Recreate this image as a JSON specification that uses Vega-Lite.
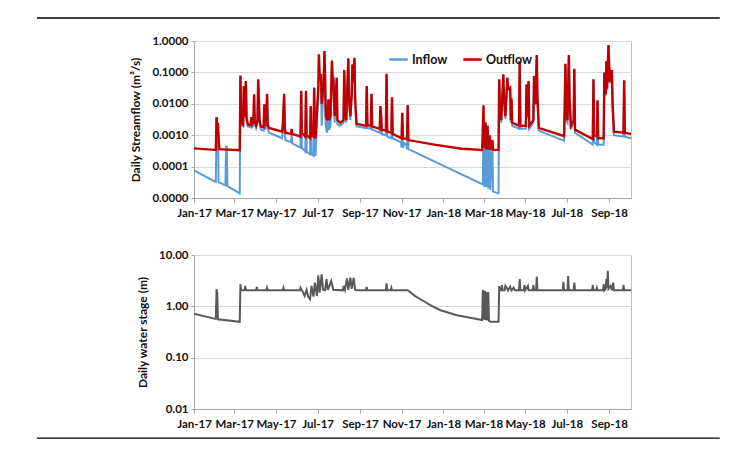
{
"$schema": "https://vega.github.io/schema/vega-lite/v6.json",
"background": "white",
"padding": {"left": 35, "top": 16, "right": 0, "bottom": 0},
"config": {
  "font": "Lato",
  "view": {"stroke": "#bfbfbf", "strokeWidth": 1},
  "axis": {"labelFont": "Lato", "labelFontWeight": "bold", "labelFontSize": 11.5, "labelColor": "#111", "titleFont": "Lato", "titleFontWeight": "bold", "titleFontSize": 12, "titleColor": "#111", "domainColor": "#a6a6a6", "tickColor": "#a6a6a6", "gridColor": "#d9d9d9"}
},
"datasets": {
"flow": [
{"date":"2017-01-01","series":"Outflow","value":0.00038},
{"date":"2017-02-01","series":"Outflow","value":0.00034},
{"date":"2017-02-02","series":"Outflow","value":0.00034},
{"date":"2017-02-03","series":"Outflow","value":0.0038},
{"date":"2017-02-04","series":"Outflow","value":0.0016},
{"date":"2017-02-05","series":"Outflow","value":0.0025},
{"date":"2017-02-07","series":"Outflow","value":0.00036},
{"date":"2017-03-09","series":"Outflow","value":0.00033},
{"date":"2017-03-10","series":"Outflow","value":0.08},
{"date":"2017-03-11","series":"Outflow","value":0.004},
{"date":"2017-03-12","series":"Outflow","value":0.0024},
{"date":"2017-03-14","series":"Outflow","value":0.0022},
{"date":"2017-03-15","series":"Outflow","value":0.037},
{"date":"2017-03-16","series":"Outflow","value":0.004},
{"date":"2017-03-18","series":"Outflow","value":0.053},
{"date":"2017-03-19","series":"Outflow","value":0.0035},
{"date":"2017-03-21","series":"Outflow","value":0.0022},
{"date":"2017-03-25","series":"Outflow","value":0.0021},
{"date":"2017-03-26","series":"Outflow","value":0.0038},
{"date":"2017-03-27","series":"Outflow","value":0.0022},
{"date":"2017-03-29","series":"Outflow","value":0.0025},
{"date":"2017-03-30","series":"Outflow","value":0.02},
{"date":"2017-03-31","series":"Outflow","value":0.003},
{"date":"2017-04-02","series":"Outflow","value":0.0021},
{"date":"2017-04-04","series":"Outflow","value":0.003},
{"date":"2017-04-05","series":"Outflow","value":0.06},
{"date":"2017-04-06","series":"Outflow","value":0.015},
{"date":"2017-04-07","series":"Outflow","value":0.003},
{"date":"2017-04-09","series":"Outflow","value":0.0019},
{"date":"2017-04-13","series":"Outflow","value":0.0018},
{"date":"2017-04-14","series":"Outflow","value":0.0096},
{"date":"2017-04-15","series":"Outflow","value":0.002},
{"date":"2017-04-17","series":"Outflow","value":0.0025},
{"date":"2017-04-18","series":"Outflow","value":0.021},
{"date":"2017-04-19","series":"Outflow","value":0.0022},
{"date":"2017-04-21","series":"Outflow","value":0.0017},
{"date":"2017-05-10","series":"Outflow","value":0.0013},
{"date":"2017-05-11","series":"Outflow","value":0.002},
{"date":"2017-05-13","series":"Outflow","value":0.021},
{"date":"2017-05-14","series":"Outflow","value":0.0016},
{"date":"2017-05-15","series":"Outflow","value":0.0012},
{"date":"2017-05-23","series":"Outflow","value":0.0011},
{"date":"2017-05-24","series":"Outflow","value":0.0016},
{"date":"2017-05-25","series":"Outflow","value":0.0011},
{"date":"2017-06-06","series":"Outflow","value":0.0009},
{"date":"2017-06-07","series":"Outflow","value":0.026},
{"date":"2017-06-08","series":"Outflow","value":0.0012},
{"date":"2017-06-13","series":"Outflow","value":0.0009},
{"date":"2017-06-14","series":"Outflow","value":0.026},
{"date":"2017-06-15","series":"Outflow","value":0.001},
{"date":"2017-06-20","series":"Outflow","value":0.0008},
{"date":"2017-06-21","series":"Outflow","value":0.0085},
{"date":"2017-06-22","series":"Outflow","value":0.001},
{"date":"2017-06-25","series":"Outflow","value":0.0009},
{"date":"2017-06-26","series":"Outflow","value":0.033},
{"date":"2017-06-27","series":"Outflow","value":0.002},
{"date":"2017-06-28","series":"Outflow","value":0.0008},
{"date":"2017-07-02","series":"Outflow","value":0.03},
{"date":"2017-07-03","series":"Outflow","value":0.38},
{"date":"2017-07-04","series":"Outflow","value":0.06},
{"date":"2017-07-06","series":"Outflow","value":0.09},
{"date":"2017-07-07","series":"Outflow","value":0.01},
{"date":"2017-07-10","series":"Outflow","value":0.05},
{"date":"2017-07-11","series":"Outflow","value":0.48},
{"date":"2017-07-12","series":"Outflow","value":0.08},
{"date":"2017-07-13","series":"Outflow","value":0.004},
{"date":"2017-07-15","series":"Outflow","value":0.003},
{"date":"2017-07-17","series":"Outflow","value":0.014},
{"date":"2017-07-18","series":"Outflow","value":0.003},
{"date":"2017-07-20","series":"Outflow","value":0.004},
{"date":"2017-07-22","series":"Outflow","value":0.24},
{"date":"2017-07-23","series":"Outflow","value":0.06},
{"date":"2017-07-24","series":"Outflow","value":0.068},
{"date":"2017-07-26","series":"Outflow","value":0.004},
{"date":"2017-07-29","series":"Outflow","value":0.068},
{"date":"2017-07-30","series":"Outflow","value":0.003},
{"date":"2017-08-03","series":"Outflow","value":0.0025},
{"date":"2017-08-08","series":"Outflow","value":0.003},
{"date":"2017-08-09","series":"Outflow","value":0.12},
{"date":"2017-08-10","series":"Outflow","value":0.016},
{"date":"2017-08-12","series":"Outflow","value":0.003},
{"date":"2017-08-15","series":"Outflow","value":0.28},
{"date":"2017-08-16","series":"Outflow","value":0.016},
{"date":"2017-08-18","series":"Outflow","value":0.004},
{"date":"2017-08-20","series":"Outflow","value":0.02},
{"date":"2017-08-21","series":"Outflow","value":0.18},
{"date":"2017-08-22","series":"Outflow","value":0.05},
{"date":"2017-08-24","series":"Outflow","value":0.29},
{"date":"2017-08-25","series":"Outflow","value":0.014},
{"date":"2017-08-27","series":"Outflow","value":0.0023},
{"date":"2017-09-10","series":"Outflow","value":0.002},
{"date":"2017-09-11","series":"Outflow","value":0.037},
{"date":"2017-09-12","series":"Outflow","value":0.0021},
{"date":"2017-09-17","series":"Outflow","value":0.002},
{"date":"2017-09-18","series":"Outflow","value":0.021},
{"date":"2017-09-19","series":"Outflow","value":0.0019},
{"date":"2017-09-30","series":"Outflow","value":0.0016},
{"date":"2017-10-01","series":"Outflow","value":0.0085},
{"date":"2017-10-02","series":"Outflow","value":0.0047},
{"date":"2017-10-03","series":"Outflow","value":0.0015},
{"date":"2017-10-09","series":"Outflow","value":0.0014},
{"date":"2017-10-10","series":"Outflow","value":0.091},
{"date":"2017-10-11","series":"Outflow","value":0.0013},
{"date":"2017-10-17","series":"Outflow","value":0.0012},
{"date":"2017-10-18","series":"Outflow","value":0.016},
{"date":"2017-10-19","series":"Outflow","value":0.0011},
{"date":"2017-11-01","series":"Outflow","value":0.0008},
{"date":"2017-11-02","series":"Outflow","value":0.0052},
{"date":"2017-11-03","series":"Outflow","value":0.0008},
{"date":"2017-11-09","series":"Outflow","value":0.00075},
{"date":"2017-11-10","series":"Outflow","value":0.0091},
{"date":"2017-11-11","series":"Outflow","value":0.0007},
{"date":"2017-12-19","series":"Outflow","value":0.0005},
{"date":"2018-01-28","series":"Outflow","value":0.00037},
{"date":"2018-02-27","series":"Outflow","value":0.00034},
{"date":"2018-03-01","series":"Outflow","value":0.009},
{"date":"2018-03-02","series":"Outflow","value":0.0004},
{"date":"2018-03-04","series":"Outflow","value":0.0025},
{"date":"2018-03-05","series":"Outflow","value":0.00035},
{"date":"2018-03-07","series":"Outflow","value":0.002},
{"date":"2018-03-08","series":"Outflow","value":0.00035},
{"date":"2018-03-10","series":"Outflow","value":0.001},
{"date":"2018-03-11","series":"Outflow","value":0.00035},
{"date":"2018-03-14","series":"Outflow","value":0.0007},
{"date":"2018-03-15","series":"Outflow","value":0.00034},
{"date":"2018-03-23","series":"Outflow","value":0.00034},
{"date":"2018-03-24","series":"Outflow","value":0.06},
{"date":"2018-03-25","series":"Outflow","value":0.0075},
{"date":"2018-03-27","series":"Outflow","value":0.003},
{"date":"2018-03-30","series":"Outflow","value":0.087},
{"date":"2018-03-31","series":"Outflow","value":0.016},
{"date":"2018-04-02","series":"Outflow","value":0.004},
{"date":"2018-04-05","series":"Outflow","value":0.068},
{"date":"2018-04-06","series":"Outflow","value":0.03},
{"date":"2018-04-09","series":"Outflow","value":0.033},
{"date":"2018-04-10","series":"Outflow","value":0.003},
{"date":"2018-04-11","series":"Outflow","value":0.015},
{"date":"2018-04-12","series":"Outflow","value":0.0025},
{"date":"2018-04-22","series":"Outflow","value":0.002},
{"date":"2018-04-23","series":"Outflow","value":0.23},
{"date":"2018-04-24","series":"Outflow","value":0.002},
{"date":"2018-05-02","series":"Outflow","value":0.002},
{"date":"2018-05-03","series":"Outflow","value":0.042},
{"date":"2018-05-04","series":"Outflow","value":0.004},
{"date":"2018-05-06","series":"Outflow","value":0.053},
{"date":"2018-05-07","series":"Outflow","value":0.002},
{"date":"2018-05-13","series":"Outflow","value":0.003},
{"date":"2018-05-14","series":"Outflow","value":0.077},
{"date":"2018-05-16","series":"Outflow","value":0.01},
{"date":"2018-05-18","series":"Outflow","value":0.36},
{"date":"2018-05-19","series":"Outflow","value":0.016},
{"date":"2018-05-21","series":"Outflow","value":0.0017},
{"date":"2018-06-27","series":"Outflow","value":0.00094},
{"date":"2018-06-28","series":"Outflow","value":0.01},
{"date":"2018-06-29","series":"Outflow","value":0.19},
{"date":"2018-06-30","series":"Outflow","value":0.004},
{"date":"2018-07-02","series":"Outflow","value":0.003},
{"date":"2018-07-04","series":"Outflow","value":0.36},
{"date":"2018-07-05","series":"Outflow","value":0.016},
{"date":"2018-07-07","series":"Outflow","value":0.002},
{"date":"2018-07-11","series":"Outflow","value":0.003},
{"date":"2018-07-12","series":"Outflow","value":0.13},
{"date":"2018-07-13","series":"Outflow","value":0.0015},
{"date":"2018-08-08","series":"Outflow","value":0.00075},
{"date":"2018-08-09","series":"Outflow","value":0.06},
{"date":"2018-08-10","series":"Outflow","value":0.001},
{"date":"2018-08-14","series":"Outflow","value":0.0009},
{"date":"2018-08-15","series":"Outflow","value":0.013},
{"date":"2018-08-16","series":"Outflow","value":0.0008},
{"date":"2018-08-24","series":"Outflow","value":0.0008},
{"date":"2018-08-25","series":"Outflow","value":0.1},
{"date":"2018-08-27","series":"Outflow","value":0.02},
{"date":"2018-08-28","series":"Outflow","value":0.23},
{"date":"2018-08-29","series":"Outflow","value":0.03},
{"date":"2018-08-31","series":"Outflow","value":0.75},
{"date":"2018-09-02","series":"Outflow","value":0.05},
{"date":"2018-09-05","series":"Outflow","value":0.12},
{"date":"2018-09-06","series":"Outflow","value":0.01},
{"date":"2018-09-08","series":"Outflow","value":0.0013},
{"date":"2018-09-22","series":"Outflow","value":0.0012},
{"date":"2018-09-23","series":"Outflow","value":0.056},
{"date":"2018-09-24","series":"Outflow","value":0.0012},
{"date":"2018-10-03","series":"Outflow","value":0.0011},
{"date":"2017-01-01","series":"Inflow","value":0.000076},
{"date":"2017-02-01","series":"Inflow","value":0.000033},
{"date":"2017-02-02","series":"Inflow","value":0.000033},
{"date":"2017-02-03","series":"Inflow","value":0.0035},
{"date":"2017-02-04","series":"Inflow","value":0.0015},
{"date":"2017-02-05","series":"Inflow","value":0.0023},
{"date":"2017-02-06","series":"Inflow","value":0.000032},
{"date":"2017-02-16","series":"Inflow","value":0.000025},
{"date":"2017-02-17","series":"Inflow","value":0.00043},
{"date":"2017-02-18","series":"Inflow","value":0.00043},
{"date":"2017-02-19","series":"Inflow","value":0.000024},
{"date":"2017-03-09","series":"Inflow","value":0.000014},
{"date":"2017-03-10","series":"Inflow","value":0.075},
{"date":"2017-03-11","series":"Inflow","value":0.0035},
{"date":"2017-03-12","series":"Inflow","value":0.002},
{"date":"2017-03-14","series":"Inflow","value":0.0019},
{"date":"2017-03-15","series":"Inflow","value":0.035},
{"date":"2017-03-16","series":"Inflow","value":0.0035},
{"date":"2017-03-18","series":"Inflow","value":0.05},
{"date":"2017-03-19","series":"Inflow","value":0.003},
{"date":"2017-03-21","series":"Inflow","value":0.0019},
{"date":"2017-03-25","series":"Inflow","value":0.0018},
{"date":"2017-03-26","series":"Inflow","value":0.0035},
{"date":"2017-03-27","series":"Inflow","value":0.0018},
{"date":"2017-03-29","series":"Inflow","value":0.002},
{"date":"2017-03-30","series":"Inflow","value":0.019},
{"date":"2017-03-31","series":"Inflow","value":0.0025},
{"date":"2017-04-02","series":"Inflow","value":0.0017},
{"date":"2017-04-04","series":"Inflow","value":0.0025},
{"date":"2017-04-05","series":"Inflow","value":0.055},
{"date":"2017-04-06","series":"Inflow","value":0.014},
{"date":"2017-04-07","series":"Inflow","value":0.0025},
{"date":"2017-04-09","series":"Inflow","value":0.0015},
{"date":"2017-04-13","series":"Inflow","value":0.0014},
{"date":"2017-04-14","series":"Inflow","value":0.009},
{"date":"2017-04-15","series":"Inflow","value":0.0015},
{"date":"2017-04-17","series":"Inflow","value":0.002},
{"date":"2017-04-18","series":"Inflow","value":0.02},
{"date":"2017-04-19","series":"Inflow","value":0.0016},
{"date":"2017-04-21","series":"Inflow","value":0.0012},
{"date":"2017-05-10","series":"Inflow","value":0.0008},
{"date":"2017-05-11","series":"Inflow","value":0.0015},
{"date":"2017-05-13","series":"Inflow","value":0.02},
{"date":"2017-05-14","series":"Inflow","value":0.001},
{"date":"2017-05-15","series":"Inflow","value":0.0007},
{"date":"2017-05-23","series":"Inflow","value":0.0006},
{"date":"2017-05-24","series":"Inflow","value":0.001},
{"date":"2017-05-25","series":"Inflow","value":0.00055},
{"date":"2017-06-06","series":"Inflow","value":0.0004},
{"date":"2017-06-07","series":"Inflow","value":0.025},
{"date":"2017-06-08","series":"Inflow","value":0.0004},
{"date":"2017-06-13","series":"Inflow","value":0.0003},
{"date":"2017-06-14","series":"Inflow","value":0.025},
{"date":"2017-06-15","series":"Inflow","value":0.0003},
{"date":"2017-06-20","series":"Inflow","value":0.00025},
{"date":"2017-06-21","series":"Inflow","value":0.008},
{"date":"2017-06-22","series":"Inflow","value":0.00025},
{"date":"2017-06-25","series":"Inflow","value":0.00022},
{"date":"2017-06-26","series":"Inflow","value":0.03},
{"date":"2017-06-27","series":"Inflow","value":0.0004},
{"date":"2017-06-28","series":"Inflow","value":0.00022},
{"date":"2017-07-02","series":"Inflow","value":0.028},
{"date":"2017-07-03","series":"Inflow","value":0.35},
{"date":"2017-07-04","series":"Inflow","value":0.05},
{"date":"2017-07-06","series":"Inflow","value":0.08},
{"date":"2017-07-07","series":"Inflow","value":0.002},
{"date":"2017-07-10","series":"Inflow","value":0.045},
{"date":"2017-07-11","series":"Inflow","value":0.45},
{"date":"2017-07-12","series":"Inflow","value":0.07},
{"date":"2017-07-13","series":"Inflow","value":0.002},
{"date":"2017-07-15","series":"Inflow","value":0.0012},
{"date":"2017-07-17","series":"Inflow","value":0.013},
{"date":"2017-07-18","series":"Inflow","value":0.0015},
{"date":"2017-07-20","series":"Inflow","value":0.002},
{"date":"2017-07-22","series":"Inflow","value":0.22},
{"date":"2017-07-23","series":"Inflow","value":0.055},
{"date":"2017-07-24","series":"Inflow","value":0.06},
{"date":"2017-07-26","series":"Inflow","value":0.0025},
{"date":"2017-07-29","series":"Inflow","value":0.06},
{"date":"2017-07-30","series":"Inflow","value":0.0022},
{"date":"2017-08-03","series":"Inflow","value":0.002},
{"date":"2017-08-08","series":"Inflow","value":0.0025},
{"date":"2017-08-09","series":"Inflow","value":0.11},
{"date":"2017-08-10","series":"Inflow","value":0.014},
{"date":"2017-08-12","series":"Inflow","value":0.0025},
{"date":"2017-08-15","series":"Inflow","value":0.26},
{"date":"2017-08-16","series":"Inflow","value":0.014},
{"date":"2017-08-18","series":"Inflow","value":0.003},
{"date":"2017-08-20","series":"Inflow","value":0.018},
{"date":"2017-08-21","series":"Inflow","value":0.17},
{"date":"2017-08-22","series":"Inflow","value":0.045},
{"date":"2017-08-24","series":"Inflow","value":0.27},
{"date":"2017-08-25","series":"Inflow","value":0.012},
{"date":"2017-08-27","series":"Inflow","value":0.0019},
{"date":"2017-09-10","series":"Inflow","value":0.0017},
{"date":"2017-09-11","series":"Inflow","value":0.035},
{"date":"2017-09-12","series":"Inflow","value":0.0017},
{"date":"2017-09-17","series":"Inflow","value":0.0016},
{"date":"2017-09-18","series":"Inflow","value":0.02},
{"date":"2017-09-19","series":"Inflow","value":0.0015},
{"date":"2017-09-30","series":"Inflow","value":0.0012},
{"date":"2017-10-01","series":"Inflow","value":0.008},
{"date":"2017-10-02","series":"Inflow","value":0.0044},
{"date":"2017-10-03","series":"Inflow","value":0.0011},
{"date":"2017-10-09","series":"Inflow","value":0.001},
{"date":"2017-10-10","series":"Inflow","value":0.085},
{"date":"2017-10-11","series":"Inflow","value":0.0009},
{"date":"2017-10-17","series":"Inflow","value":0.0008},
{"date":"2017-10-18","series":"Inflow","value":0.015},
{"date":"2017-10-19","series":"Inflow","value":0.0008},
{"date":"2017-10-31","series":"Inflow","value":0.0006},
{"date":"2017-11-01","series":"Inflow","value":0.0004},
{"date":"2017-11-02","series":"Inflow","value":0.005},
{"date":"2017-11-03","series":"Inflow","value":0.0004},
{"date":"2017-11-05","series":"Inflow","value":0.00055},
{"date":"2017-11-08","series":"Inflow","value":0.0005},
{"date":"2017-11-09","series":"Inflow","value":0.00036},
{"date":"2017-11-10","series":"Inflow","value":0.0085},
{"date":"2017-11-11","series":"Inflow","value":0.00036},
{"date":"2018-02-28","series":"Inflow","value":0.000027},
{"date":"2018-03-01","series":"Inflow","value":0.0025},
{"date":"2018-03-02","series":"Inflow","value":0.000023},
{"date":"2018-03-04","series":"Inflow","value":0.0027},
{"date":"2018-03-05","series":"Inflow","value":0.000022},
{"date":"2018-03-07","series":"Inflow","value":0.002},
{"date":"2018-03-08","series":"Inflow","value":0.00002},
{"date":"2018-03-10","series":"Inflow","value":0.00095},
{"date":"2018-03-11","series":"Inflow","value":0.000018},
{"date":"2018-03-14","series":"Inflow","value":0.00066},
{"date":"2018-03-15","series":"Inflow","value":0.000016},
{"date":"2018-03-23","series":"Inflow","value":0.000014},
{"date":"2018-03-24","series":"Inflow","value":0.055},
{"date":"2018-03-25","series":"Inflow","value":0.006},
{"date":"2018-03-27","series":"Inflow","value":0.0025},
{"date":"2018-03-30","series":"Inflow","value":0.08},
{"date":"2018-03-31","series":"Inflow","value":0.014},
{"date":"2018-04-02","series":"Inflow","value":0.0033},
{"date":"2018-04-05","series":"Inflow","value":0.062},
{"date":"2018-04-06","series":"Inflow","value":0.028},
{"date":"2018-04-09","series":"Inflow","value":0.03},
{"date":"2018-04-10","series":"Inflow","value":0.0025},
{"date":"2018-04-11","series":"Inflow","value":0.013},
{"date":"2018-04-12","series":"Inflow","value":0.002},
{"date":"2018-04-22","series":"Inflow","value":0.0016},
{"date":"2018-04-23","series":"Inflow","value":0.21},
{"date":"2018-04-24","series":"Inflow","value":0.0016},
{"date":"2018-05-02","series":"Inflow","value":0.0016},
{"date":"2018-05-03","series":"Inflow","value":0.04},
{"date":"2018-05-04","series":"Inflow","value":0.0035},
{"date":"2018-05-06","series":"Inflow","value":0.05},
{"date":"2018-05-07","series":"Inflow","value":0.0016},
{"date":"2018-05-13","series":"Inflow","value":0.0025},
{"date":"2018-05-14","series":"Inflow","value":0.07},
{"date":"2018-05-16","series":"Inflow","value":0.009},
{"date":"2018-05-18","series":"Inflow","value":0.33},
{"date":"2018-05-19","series":"Inflow","value":0.014},
{"date":"2018-05-21","series":"Inflow","value":0.0014},
{"date":"2018-06-27","series":"Inflow","value":0.00066},
{"date":"2018-06-28","series":"Inflow","value":0.009},
{"date":"2018-06-29","series":"Inflow","value":0.18},
{"date":"2018-06-30","series":"Inflow","value":0.003},
{"date":"2018-07-02","series":"Inflow","value":0.0025},
{"date":"2018-07-04","series":"Inflow","value":0.34},
{"date":"2018-07-05","series":"Inflow","value":0.014},
{"date":"2018-07-07","series":"Inflow","value":0.0016},
{"date":"2018-07-11","series":"Inflow","value":0.0025},
{"date":"2018-07-12","series":"Inflow","value":0.12},
{"date":"2018-07-13","series":"Inflow","value":0.0012},
{"date":"2018-08-08","series":"Inflow","value":0.0005},
{"date":"2018-08-09","series":"Inflow","value":0.055},
{"date":"2018-08-10","series":"Inflow","value":0.0006},
{"date":"2018-08-14","series":"Inflow","value":0.0005},
{"date":"2018-08-15","series":"Inflow","value":0.012},
{"date":"2018-08-16","series":"Inflow","value":0.0005},
{"date":"2018-08-24","series":"Inflow","value":0.0005},
{"date":"2018-08-25","series":"Inflow","value":0.1},
{"date":"2018-08-27","series":"Inflow","value":0.018},
{"date":"2018-08-28","series":"Inflow","value":0.22},
{"date":"2018-08-29","series":"Inflow","value":0.028},
{"date":"2018-08-31","series":"Inflow","value":0.7},
{"date":"2018-09-02","series":"Inflow","value":0.045},
{"date":"2018-09-05","series":"Inflow","value":0.11},
{"date":"2018-09-06","series":"Inflow","value":0.009},
{"date":"2018-09-08","series":"Inflow","value":0.001},
{"date":"2018-09-22","series":"Inflow","value":0.0009},
{"date":"2018-09-23","series":"Inflow","value":0.05},
{"date":"2018-09-24","series":"Inflow","value":0.0009},
{"date":"2018-10-03","series":"Inflow","value":0.0008}
],
"stage": [
{"date":"2017-01-01","stage":0.72},
{"date":"2017-02-01","stage":0.57},
{"date":"2017-02-02","stage":0.57},
{"date":"2017-02-03","stage":2.15},
{"date":"2017-02-04","stage":1.8},
{"date":"2017-02-05","stage":0.56},
{"date":"2017-03-09","stage":0.5},
{"date":"2017-03-10","stage":2.7},
{"date":"2017-03-11","stage":2.05},
{"date":"2017-03-16","stage":2.05},
{"date":"2017-03-17","stage":2.5},
{"date":"2017-03-18","stage":2.05},
{"date":"2017-04-02","stage":2.05},
{"date":"2017-04-03","stage":2.4},
{"date":"2017-04-04","stage":2.05},
{"date":"2017-04-17","stage":2.05},
{"date":"2017-04-18","stage":2.3},
{"date":"2017-04-19","stage":2.05},
{"date":"2017-05-11","stage":2.05},
{"date":"2017-05-12","stage":2.3},
{"date":"2017-05-13","stage":2.05},
{"date":"2017-06-05","stage":2.05},
{"date":"2017-06-06","stage":2.3},
{"date":"2017-06-08","stage":2.05},
{"date":"2017-06-10","stage":1.85},
{"date":"2017-06-12","stage":1.6},
{"date":"2017-06-15","stage":2.1},
{"date":"2017-06-17","stage":1.55},
{"date":"2017-06-20","stage":1.37},
{"date":"2017-06-22","stage":2.5},
{"date":"2017-06-25","stage":1.55},
{"date":"2017-06-27","stage":2.9},
{"date":"2017-06-30","stage":1.6},
{"date":"2017-07-02","stage":4.0},
{"date":"2017-07-04","stage":1.85},
{"date":"2017-07-07","stage":4.2},
{"date":"2017-07-09","stage":2.1},
{"date":"2017-07-12","stage":2.05},
{"date":"2017-07-14","stage":3.4},
{"date":"2017-07-16","stage":2.1},
{"date":"2017-07-21","stage":3.1},
{"date":"2017-07-24","stage":2.1},
{"date":"2017-08-07","stage":2.05},
{"date":"2017-08-08","stage":2.5},
{"date":"2017-08-10","stage":2.1},
{"date":"2017-08-13","stage":3.5},
{"date":"2017-08-15","stage":2.1},
{"date":"2017-08-18","stage":3.6},
{"date":"2017-08-20","stage":2.2},
{"date":"2017-08-23","stage":3.6},
{"date":"2017-08-25","stage":2.1},
{"date":"2017-08-27","stage":2.05},
{"date":"2017-09-10","stage":2.05},
{"date":"2017-09-11","stage":2.4},
{"date":"2017-09-12","stage":2.05},
{"date":"2017-10-09","stage":2.05},
{"date":"2017-10-10","stage":2.8},
{"date":"2017-10-11","stage":2.05},
{"date":"2017-10-16","stage":2.05},
{"date":"2017-10-17","stage":2.3},
{"date":"2017-10-18","stage":2.05},
{"date":"2017-11-10","stage":2.05},
{"date":"2017-11-21","stage":1.58},
{"date":"2017-12-03","stage":1.27},
{"date":"2017-12-15","stage":1.02},
{"date":"2017-12-28","stage":0.84},
{"date":"2018-01-21","stage":0.67},
{"date":"2018-02-27","stage":0.54},
{"date":"2018-02-28","stage":2.1},
{"date":"2018-03-01","stage":0.55},
{"date":"2018-03-03","stage":2.0},
{"date":"2018-03-04","stage":0.54},
{"date":"2018-03-05","stage":1.9},
{"date":"2018-03-06","stage":0.53},
{"date":"2018-03-08","stage":1.9},
{"date":"2018-03-09","stage":0.52},
{"date":"2018-03-11","stage":0.5},
{"date":"2018-03-23","stage":0.5},
{"date":"2018-03-24","stage":2.5},
{"date":"2018-03-25","stage":2.05},
{"date":"2018-03-27","stage":2.05},
{"date":"2018-03-28","stage":2.6},
{"date":"2018-03-29","stage":2.05},
{"date":"2018-04-01","stage":2.05},
{"date":"2018-04-02","stage":2.5},
{"date":"2018-04-04","stage":2.3},
{"date":"2018-04-06","stage":2.05},
{"date":"2018-04-09","stage":2.4},
{"date":"2018-04-11","stage":2.05},
{"date":"2018-04-14","stage":2.3},
{"date":"2018-04-16","stage":2.05},
{"date":"2018-04-22","stage":2.05},
{"date":"2018-04-23","stage":3.4},
{"date":"2018-04-24","stage":2.05},
{"date":"2018-04-29","stage":2.05},
{"date":"2018-04-30","stage":2.6},
{"date":"2018-05-01","stage":2.05},
{"date":"2018-05-05","stage":2.5},
{"date":"2018-05-06","stage":2.05},
{"date":"2018-05-12","stage":2.05},
{"date":"2018-05-13","stage":2.6},
{"date":"2018-05-14","stage":2.05},
{"date":"2018-05-17","stage":2.05},
{"date":"2018-05-18","stage":3.8},
{"date":"2018-05-19","stage":2.05},
{"date":"2018-06-25","stage":2.05},
{"date":"2018-06-26","stage":3.0},
{"date":"2018-06-27","stage":2.05},
{"date":"2018-07-02","stage":2.05},
{"date":"2018-07-03","stage":3.9},
{"date":"2018-07-04","stage":2.05},
{"date":"2018-07-11","stage":2.05},
{"date":"2018-07-12","stage":2.9},
{"date":"2018-07-13","stage":2.05},
{"date":"2018-08-07","stage":2.05},
{"date":"2018-08-08","stage":2.6},
{"date":"2018-08-09","stage":2.05},
{"date":"2018-08-13","stage":2.05},
{"date":"2018-08-14","stage":2.3},
{"date":"2018-08-15","stage":2.05},
{"date":"2018-08-23","stage":2.05},
{"date":"2018-08-24","stage":2.7},
{"date":"2018-08-25","stage":2.05},
{"date":"2018-08-27","stage":2.2},
{"date":"2018-08-28","stage":3.4},
{"date":"2018-08-29","stage":2.3},
{"date":"2018-08-30","stage":4.9},
{"date":"2018-08-31","stage":2.2},
{"date":"2018-09-03","stage":2.5},
{"date":"2018-09-05","stage":2.05},
{"date":"2018-09-07","stage":2.9},
{"date":"2018-09-08","stage":2.05},
{"date":"2018-09-21","stage":2.05},
{"date":"2018-09-22","stage":2.6},
{"date":"2018-09-23","stage":2.05},
{"date":"2018-10-03","stage":2.05}
]
},
"spacing": 29,
"vconcat": [
{
  "width": 437,
  "height": 157,
  "layer": [
    {
      "data": {"name": "flow"},
      "transform": [{"filter": "datum.series === 'Inflow'"}],
      "mark": {"type": "line", "clip": true, "strokeWidth": 2},
      "encoding": {
        "x": {"field": "date", "type": "temporal", "title": null,
          "scale": {"type": "utc", "domain": [{"year": 2017, "month": 1, "date": 1, "utc": true}, {"year": 2018, "month": 10, "date": 3, "utc": true}]},
          "axis": {"format": "%b-%y", "grid": false, "tickSize": 4, "labelPadding": 5, "labelOverlap": false, "labelFlush": false,
            "values": [{"year": 2017, "month": 1, "date": 1, "utc": true}, {"year": 2017, "month": 3, "date": 1, "utc": true}, {"year": 2017, "month": 5, "date": 1, "utc": true}, {"year": 2017, "month": 7, "date": 1, "utc": true}, {"year": 2017, "month": 9, "date": 1, "utc": true}, {"year": 2017, "month": 11, "date": 1, "utc": true}, {"year": 2018, "month": 1, "date": 1, "utc": true}, {"year": 2018, "month": 3, "date": 1, "utc": true}, {"year": 2018, "month": 5, "date": 1, "utc": true}, {"year": 2018, "month": 7, "date": 1, "utc": true}, {"year": 2018, "month": 9, "date": 1, "utc": true}]}},
        "y": {"field": "value", "type": "quantitative", "title": "Daily Streamflow (m³/s)",
          "scale": {"type": "log", "domain": [0.00001, 1]},
          "axis": {"values": [0.00001, 0.0001, 0.001, 0.01, 0.1, 1], "format": ".4f", "grid": true, "tickSize": 3, "labelPadding": 3, "titlePadding": 9}},
        "color": {"field": "series", "type": "nominal",
          "scale": {"domain": ["Inflow", "Outflow"], "range": ["#5b9bd5", "#c00000"]},
          "legend": {"orient": "none", "legendX": 194, "legendY": 8, "direction": "horizontal", "title": null, "symbolType": "stroke", "symbolSize": 340, "symbolStrokeWidth": 2.5, "labelFont": "Lato", "labelFontSize": 12.5, "labelFontWeight": "bold", "labelColor": "#111", "columnPadding": 10, "labelOffset": 3}}
      }
    },
    {
      "data": {"name": "flow"},
      "transform": [{"filter": "datum.series === 'Outflow'"}],
      "mark": {"type": "line", "clip": true, "strokeWidth": 2.4},
      "encoding": {
        "x": {"field": "date", "type": "temporal", "title": null, "scale": {"type": "utc"}},
        "y": {"field": "value", "type": "quantitative", "title": "Daily Streamflow (m³/s)", "scale": {"type": "log"}},
        "color": {"field": "series", "type": "nominal"}
      }
    },
    {
      "data": {"values": [{}]},
      "mark": {"type": "rule", "color": "#000000", "strokeWidth": 1.3},
      "encoding": {
        "x": {"datum": {"year": 2016, "month": 5, "date": 16, "utc": true}, "type": "temporal", "scale": {"type": "utc"}, "title": null},
        "x2": {"datum": {"year": 2019, "month": 2, "date": 10, "utc": true}},
        "y": {"datum": 5.4, "type": "quantitative", "scale": {"type": "log"}, "title": "Daily Streamflow (m³/s)"}
      }
    }
  ]
},
{
  "width": 437,
  "height": 154,
  "layer": [
    {
      "data": {"name": "stage"},
      "mark": {"type": "line", "color": "#595959", "strokeWidth": 2, "clip": true},
      "encoding": {
        "x": {"field": "date", "type": "temporal", "title": null,
          "scale": {"type": "utc", "domain": [{"year": 2017, "month": 1, "date": 1, "utc": true}, {"year": 2018, "month": 10, "date": 3, "utc": true}]},
          "axis": {"format": "%b-%y", "grid": false, "tickSize": 4, "labelPadding": 5, "labelOverlap": false, "labelFlush": false,
            "values": [{"year": 2017, "month": 1, "date": 1, "utc": true}, {"year": 2017, "month": 3, "date": 1, "utc": true}, {"year": 2017, "month": 5, "date": 1, "utc": true}, {"year": 2017, "month": 7, "date": 1, "utc": true}, {"year": 2017, "month": 9, "date": 1, "utc": true}, {"year": 2017, "month": 11, "date": 1, "utc": true}, {"year": 2018, "month": 1, "date": 1, "utc": true}, {"year": 2018, "month": 3, "date": 1, "utc": true}, {"year": 2018, "month": 5, "date": 1, "utc": true}, {"year": 2018, "month": 7, "date": 1, "utc": true}, {"year": 2018, "month": 9, "date": 1, "utc": true}]}},
        "y": {"field": "stage", "type": "quantitative", "title": "Daily water stage (m)",
          "scale": {"type": "log", "domain": [0.01, 10]},
          "axis": {"values": [0.01, 0.1, 1, 10], "format": ".2f", "grid": true, "tickSize": 3, "labelPadding": 3, "titlePadding": 9}}
      }
    },
    {
      "data": {"values": [{}]},
      "mark": {"type": "rule", "color": "#000000", "strokeWidth": 1.3},
      "encoding": {
        "x": {"datum": {"year": 2016, "month": 5, "date": 16, "utc": true}, "type": "temporal", "scale": {"type": "utc"}, "title": null},
        "x2": {"datum": {"year": 2019, "month": 2, "date": 10, "utc": true}},
        "y": {"datum": 0.00272, "type": "quantitative", "scale": {"type": "log"}, "title": "Daily water stage (m)"}
      }
    }
  ]
}
]
}
